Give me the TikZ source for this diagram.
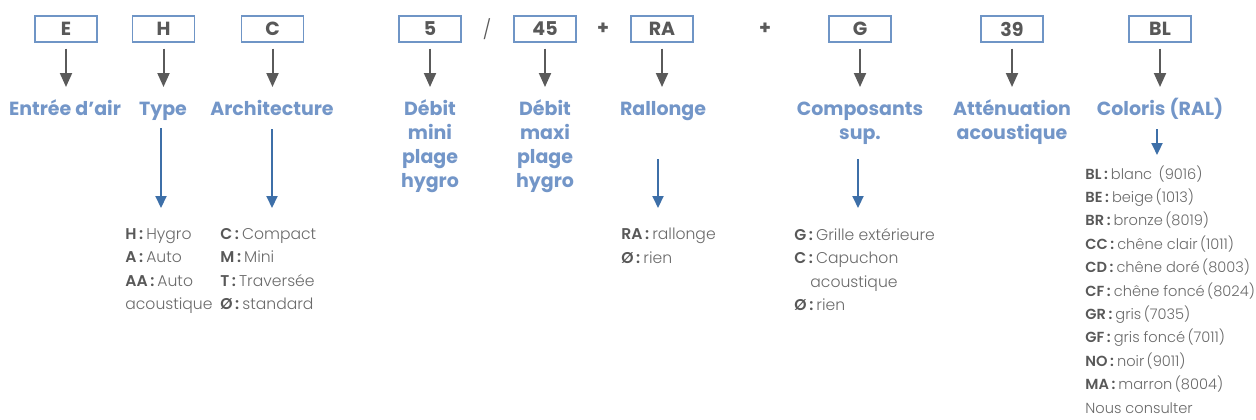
\documentclass[tikz,border=0pt]{standalone}
\usepackage{fontspec}
\setmainfont{Poppins}
\newfontfamily\lightfont{Poppins Light}
\usetikzlibrary{arrows.meta, positioning}
\definecolor{boxblue}{HTML}{6F95C6}
\definecolor{labelblue}{HTML}{7396C8}
\definecolor{arrblue}{HTML}{3D6FA8}
\definecolor{arrgray}{HTML}{5A5A5A}
\definecolor{keygray}{HTML}{585858}
\definecolor{txtgray}{HTML}{6A6A6A}
\newcommand{\key}[1]{\textbf{\color{keygray}#1\hspace{1.3pt}:}\hspace{1.5pt}}

\begin{document}
\begin{tikzpicture}[x=0.5pt, y=-0.5pt,
        codebox/.style={draw=boxblue, line width=0.7pt, minimum width=31pt, minimum height=13pt, inner sep=0pt, font=\bfseries\fontsize{9.5}{11}\selectfont, text=keygray},
        field/.style={font=\bfseries\fontsize{9.5}{12}\selectfont, text=labelblue, align=center, anchor=base, inner sep=0pt},
        choices/.style={font=\lightfont\fontsize{7.8}{11.7}\selectfont, text=txtgray, align=left, anchor=north west, inner sep=0pt},
        sep/.style={font=\bfseries\fontsize{9.5}{11}\selectfont, text=arrgray},
        grayarr/.style={-{Triangle[length=7pt,width=6pt]}, line width=1pt, draw=arrgray, shorten <=3pt},
        bluearr/.style={-{Triangle[length=6pt,width=5.5pt]}, line width=1pt, draw=arrblue}
    ]
        \useasboundingbox (0,0) rectangle (1256,419);

        % Code boxes
        \node[codebox] (bE) at (66,29) {E};
        \node[codebox] (bH) at (163.5,29) {H};
        \node[codebox] (bC) at (272.5,29) {C};
        \node[codebox] (bMin) at (430,29) {5};
        \node[sep, font=\lightfont\fontsize{9.5}{11}\selectfont] (slash) at (487,29) {/};
        \node[codebox] (bMax) at (545,29) {45};
        \node[sep] (plusA) at (603,29) {+};
        \node[codebox] (bRA) at (662,29) {RA};
        \node[sep] (plusB) at (765,29) {+};
        \node[codebox] (bG) at (860,29) {G};
        \node[codebox] (b39) at (1012,29) {39};
        \node[codebox] (bBL) at (1160,29) {BL};

        % Field labels (base = last line)
        \node[field] (lE) at (65,115) {Entrée d'air};
        \node[field] (lH) at (163,115) {Type};
        \node[field] (lC) at (272,115) {Architecture};
        \node[field] (lMin) at (430,187) {Débit\\mini\\plage\\hygro};
        \node[field] (lMax) at (545,187) {Débit\\maxi\\plage\\hygro};
        \node[field] (lRA) at (663,115) {Rallonge};
        \node[field] (lG) at (860,139) {Composants\\sup.};
        \node[field] (l39) at (1012,139) {Atténuation\\acoustique};
        \node[field] (lBL) at (1160,115) {Coloris (RAL)};

        % Box to label
        \coordinate (tips) at (0,87);
        \foreach \b in {bE, bH, bC, bMin, bMax, bRA, bG, b39, bBL}
            \draw[grayarr] (\b.south) -- (\b.south |- tips);

        % Choice lists
        \node[choices] (oH) at (125,228) {\key{H}Hygro\\\key{A}Auto\\\key{AA}Auto\\acoustique};
        \node[choices] (oC) at (220,228) {\key{C}Compact\\\key{M}Mini\\\key{T}Traversée\\\key{Ø}standard};
        \node[choices] (oRA) at (621,228) {\key{RA}rallonge\\\key{Ø}rien};
        \node[choices] (oG) at (794,228) {\key{G}Grille extérieure\\\key{C}Capuchon\\\hspace*{8pt}acoustique\\\key{Ø}rien};
        \node[choices, font=\lightfont\fontsize{7.3}{11.7}\selectfont] (oBL) at (1085,165) {\key{BL}blanc\ \,(9016)\\\key{BE}beige\,(1013)\\\key{BR}bronze\,(8019)\\\key{CC}chêne clair\,(1011)\\\key{CD}chêne doré\,(8003)\\\key{CF}chêne foncé\,(8024)\\\key{GR}gris\,(7035)\\\key{GF}gris foncé\,(7011)\\\key{NO}noir\,(9011)\\\key{MA}marron\,(8004)\\Nous consulter};

        % Label to list
        \coordinate (sH) at (161,128);
        \coordinate (eH) at (161,208);
        \coordinate (sC) at (272,129);
        \coordinate (eC) at (272,208);
        \coordinate (sRA) at (658,159);
        \coordinate (eRA) at (658,208);
        \coordinate (sG) at (858,159);
        \coordinate (eG) at (858,208);
        \coordinate (sBL) at (1157,129);
        \coordinate (eBL) at (1157,155);
        \foreach \p in {H, C, RA, G, BL}
            \draw[bluearr] (s\p) -- (e\p);
    \end{tikzpicture}
\end{document}
